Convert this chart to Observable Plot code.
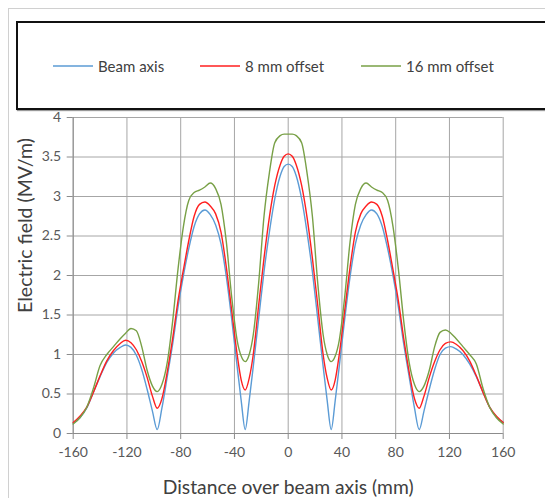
<!DOCTYPE html>
<html>
<head>
<meta charset="utf-8">
<script src="https://cdn.jsdelivr.net/npm/d3@7"></script>
<script src="https://cdn.jsdelivr.net/npm/@observablehq/plot@0.6"></script>
<style>
  html, body { margin: 0; padding: 0; background: #fff; overflow: hidden; width: 545px; height: 498px; }
  #wrap { position: relative; width: 545px; height: 498px; overflow: hidden; font-family: Lato, "Open Sans", sans-serif; background: #fff; }
  #outer { position: absolute; left: 8px; top: 8px; width: 600px; height: 600px; border-left: 1px solid #d0d0d0; border-top: 1px solid #d0d0d0; }
  #legend { position: absolute; left: 16px; top: 21px; width: 600px; height: 85px; border: 2px solid #111; background: #fff; box-shadow: 1px 1px 1px #999; }
  .item { position: absolute; top: 0; height: 85px; display: flex; align-items: center; font-size: 15px; color: #404040; white-space: nowrap; }
  .item svg { margin-right: 5px; }
  #chart { position: absolute; left: 0; top: 0; }
</style>
</head>
<body>
<div id="wrap">
  <div id="outer"></div>
  <div id="chart"></div>
  <div id="legend"></div>
</div>
<script>
// Distance over beam axis (mm)
const xs = [-160,-155,-150,-145,-140,-135,-130,-125,-121,-117,-113,-109,-105,-101,-97.5,-94,-90,-86,-82,-78,-74,-70,-66,-62,-58,-54,-50,-46,-42,-38,-35,-32,-29,-26,-22,-18,-14,-10,-6,-3,
  0,
  3,6,10,14,18,22,26,29,32,35,38,42,46,50,54,58,62,66,70,74,78,82,86,90,94,97.5,101,105,109,113,117,121,125,130,135,140,145,150,155,160];

// Electric field (MV/m)
const beamAxis = [0.13,0.2,0.32,0.52,0.72,0.9,1.02,1.09,1.12,1.09,0.99,0.81,0.56,0.28,0.05,0.32,0.72,1.13,1.6,2.0,2.34,2.62,2.78,2.83,2.77,2.64,2.4,1.98,1.44,0.85,0.42,0.05,0.42,0.85,1.45,2.05,2.55,2.97,3.26,3.38,
  3.41,
  3.38,3.26,2.97,2.55,2.05,1.45,0.85,0.42,0.05,0.42,0.85,1.44,1.98,2.4,2.64,2.77,2.83,2.78,2.62,2.34,2.0,1.6,1.13,0.72,0.32,0.05,0.28,0.56,0.81,1.0,1.08,1.1,1.07,1.0,0.88,0.72,0.52,0.33,0.21,0.14];

const offset8 = [0.14,0.22,0.33,0.52,0.73,0.92,1.05,1.14,1.18,1.15,1.06,0.91,0.71,0.47,0.32,0.44,0.78,1.2,1.68,2.07,2.44,2.75,2.9,2.93,2.88,2.78,2.55,2.1,1.55,1.0,0.68,0.55,0.7,1.0,1.62,2.22,2.74,3.14,3.4,3.51,
  3.54,
  3.51,3.4,3.14,2.74,2.22,1.62,1.0,0.7,0.55,0.68,1.0,1.55,2.1,2.55,2.78,2.88,2.93,2.9,2.75,2.44,2.07,1.68,1.2,0.78,0.44,0.32,0.47,0.71,0.91,1.06,1.14,1.16,1.13,1.05,0.92,0.73,0.52,0.33,0.22,0.14];

const offset16 = [0.12,0.2,0.33,0.57,0.86,1.0,1.1,1.2,1.27,1.33,1.3,1.1,0.8,0.6,0.53,0.62,0.9,1.42,2.08,2.62,2.95,3.05,3.08,3.12,3.17,3.1,2.9,2.42,1.72,1.18,0.98,0.91,1.0,1.25,1.9,2.75,3.3,3.68,3.77,3.79,
  3.79,
  3.79,3.77,3.68,3.3,2.75,1.9,1.25,1.0,0.91,0.98,1.18,1.72,2.42,2.9,3.1,3.17,3.12,3.08,3.05,2.95,2.62,2.08,1.42,0.9,0.62,0.53,0.6,0.8,1.1,1.28,1.31,1.27,1.2,1.1,1.0,0.88,0.57,0.33,0.2,0.12];

const seriesNames = ["Beam axis", "8 mm offset", "16 mm offset"];
const seriesColors = ["#5b9bd5", "#ff1f1f", "#78a046"];
const seriesValues = [beamAxis, offset8, offset16];

const xTicks = [-160,-120,-80,-40,0,40,80,120,160];
const yTicks = [0,0.5,1,1.5,2,2.5,3,3.5,4];

const data = [];
seriesValues.forEach((vals, i) => {
  vals.forEach((v, j) => data.push({x: xs[j], y: v, s: seriesNames[i]}));
});

const font = "Lato, 'Open Sans', sans-serif";

const chart = Plot.plot({
  width: 545,
  height: 498,
  marginLeft: 72.7,
  marginRight: 42.3,
  marginTop: 117,
  marginBottom: 65,
  style: {fontFamily: font, background: "transparent"},
  x: {domain: [-160, 160], ticks: xTicks},
  y: {domain: [0, 4], ticks: yTicks},
  color: {domain: seriesNames, range: seriesColors},
  marks: [
    Plot.gridX(xTicks, {stroke: "#a6a6a6", strokeOpacity: 1, strokeWidth: 1}),
    Plot.gridY(yTicks, {stroke: "#a6a6a6", strokeOpacity: 1, strokeWidth: 1}),
    Plot.ruleY([0], {stroke: "#8c8c8c"}),
    Plot.ruleX([-160], {stroke: "#8c8c8c"}),
    Plot.axisX({ticks: xTicks, tickSize: 6, tickPadding: 8, stroke: "#8c8c8c", fill: "#595959", fontSize: 14, tickFormat: d => String(d), label: null}),
    Plot.axisY({ticks: yTicks, tickSize: 6, tickPadding: 6, stroke: "#8c8c8c", fill: "#595959", fontSize: 14, tickFormat: d => String(d), label: null}),
    Plot.line(data, {x: "x", y: "y", stroke: "s", z: "s", curve: "monotone-x", strokeWidth: 1.4}),
    Plot.text(["Distance over beam axis (mm)"], {frameAnchor: "bottom", lineAnchor: "middle", dy: 54, fontSize: 19.3, fill: "#404040"}),
    Plot.text(["Electric field (MV/m)"], {frameAnchor: "left", textAnchor: "middle", lineAnchor: "middle", dx: -47.5, dy: -50, rotate: -90, fontSize: 19.5, fill: "#404040"})
  ]
});
document.getElementById("chart").appendChild(chart);

const itemLefts = [53, 200, 361];
const legend = document.getElementById("legend");
const ns = "http://www.w3.org/2000/svg";
seriesNames.forEach((name, i) => {
  const it = document.createElement("div");
  it.className = "item";
  it.style.left = (itemLefts[i] - 18) + "px";
  const sw = document.createElementNS(ns, "svg");
  sw.setAttribute("width", "40");
  sw.setAttribute("height", "6");
  const ln = document.createElementNS(ns, "line");
  ln.setAttribute("x1", "0"); ln.setAttribute("x2", "40");
  ln.setAttribute("y1", "3"); ln.setAttribute("y2", "3");
  ln.setAttribute("stroke", seriesColors[i]);
  ln.setAttribute("stroke-width", "1.6");
  sw.appendChild(ln);
  it.appendChild(sw);
  it.appendChild(document.createTextNode(name));
  legend.appendChild(it);
});
</script>
</body>
</html>
